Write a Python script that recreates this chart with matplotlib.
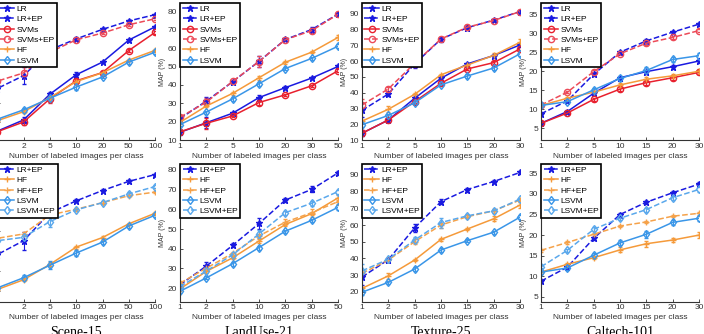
import numpy as np
import matplotlib
matplotlib.use('Agg')
import matplotlib.pyplot as plt

plt.rcParams['font.family'] = ['Liberation Sans', 'DejaVu Sans']

# x tick labels (points are evenly spaced)
scene_x = ['1', '2', '5', '10', '20', '50', '100']
landuse_x = ['1', '2', '5', '10', '20', '30', '50']
texture_x = ['1', '2', '5', '10', '15', '20', '30']
caltech_x = ['1', '2', '5', '10', '15', '20', '30']

# MAP (%)
scene = {
    'LR':      [14.8, 20.9, 34.9, 45.5, 52.4, 64.4, 71.6],
    'LR+EP':   [38.0, 45.0, 59.0, 65.0, 70.2, 74.8, 78.2],
    'SVMs':    [14.5, 19.8, 32.4, 42.2, 46.7, 58.7, 68.6],
    'SVMs+EP': [42.0, 46.5, 57.8, 64.5, 68.2, 72.7, 76.0],
    'HF':      [20.5, 25.4, 33.1, 41.8, 46.6, 53.5, 58.8],
    'LSVM':    [21.3, 26.4, 32.7, 38.8, 44.3, 52.4, 57.8],
    'HF+EP':   [46.2, 48.4, 57.9, 60.8, 64.1, 67.6, 69.4],
    'LSVM+EP': [45.0, 46.7, 54.6, 60.5, 64.1, 68.5, 72.2],
}
scene_err = {
    'LR':      [0.8, 1.5, 1.2, 1.5, 0.7, 0.8, 0.6],
    'LR+EP':   [5.5, 4.5, 1.5, 0.8, 0.6, 0.6, 0.5],
    'SVMs':    [0.8, 1.5, 2.5, 1.0, 0.8, 0.8, 0.7],
    'SVMs+EP': [2.0, 3.0, 1.2, 0.8, 0.7, 0.6, 0.6],
    'HF':      [2.0, 0.8, 1.0, 0.8, 0.6, 0.6, 0.6],
    'LSVM':    [2.0, 1.2, 2.0, 1.5, 0.8, 0.8, 0.8],
    'HF+EP':   [3.0, 1.0, 1.0, 0.6, 0.6, 0.5, 0.5],
    'LSVM+EP': [1.5, 1.2, 2.5, 0.8, 0.8, 0.7, 0.6],
}

landuse = {
    'LR':      [14.2, 19.4, 24.6, 33.1, 38.5, 43.7, 50.0],
    'LR+EP':   [21.7, 31.2, 41.7, 52.8, 64.7, 70.1, 78.5],
    'SVMs':    [14.5, 19.1, 23.1, 30.4, 34.6, 39.5, 47.7],
    'SVMs+EP': [22.4, 30.6, 41.9, 52.7, 64.6, 69.5, 78.4],
    'HF':      [19.6, 28.5, 35.4, 43.9, 52.3, 57.8, 65.8],
    'LSVM':    [18.4, 25.2, 32.4, 40.6, 48.9, 54.4, 61.0],
    'HF+EP':   [22.5, 30.1, 37.7, 46.5, 53.5, 58.3, 63.9],
    'LSVM+EP': [20.8, 28.7, 36.9, 47.5, 58.3, 63.1, 69.0],
}
landuse_err = {
    'LR':      [1.5, 3.0, 0.8, 1.5, 0.7, 0.7, 0.8],
    'LR+EP':   [1.0, 2.0, 1.0, 3.0, 0.8, 1.5, 1.0],
    'SVMs':    [1.5, 3.0, 0.8, 1.2, 0.7, 0.7, 0.8],
    'SVMs+EP': [1.0, 2.0, 1.0, 3.0, 0.8, 1.2, 0.8],
    'HF':      [1.0, 0.8, 0.8, 1.0, 0.7, 0.7, 1.5],
    'LSVM':    [1.0, 0.8, 1.0, 1.0, 0.8, 0.8, 1.2],
    'HF+EP':   [1.0, 1.0, 0.8, 1.0, 1.5, 2.0, 1.0],
    'LSVM+EP': [1.0, 1.0, 1.0, 2.0, 1.0, 1.2, 1.0],
}

texture = {
    'LR':      [14.3, 22.7, 36.5, 49.2, 58.3, 63.6, 70.3],
    'LR+EP':   [28.8, 39.2, 58.3, 74.0, 81.3, 86.1, 91.5],
    'SVMs':    [14.3, 22.7, 34.4, 46.0, 55.1, 59.1, 67.8],
    'SVMs+EP': [32.2, 42.4, 58.7, 74.1, 81.6, 85.8, 91.5],
    'HF':      [22.0, 29.5, 39.0, 51.4, 57.6, 63.7, 72.0],
    'LSVM':    [19.7, 25.6, 33.6, 45.0, 50.6, 55.7, 64.7],
    'HF+EP':   [31.0, 39.0, 50.0, 60.0, 65.0, 68.5, 75.0],
    'LSVM+EP': [32.5, 39.5, 51.0, 61.5, 65.5, 68.5, 75.5],
}
texture_err = {
    'LR':      [2.0, 1.0, 1.0, 1.0, 0.8, 0.8, 1.0],
    'LR+EP':   [4.5, 1.2, 2.5, 1.5, 1.2, 0.8, 0.8],
    'SVMs':    [2.0, 1.0, 1.0, 1.0, 0.8, 0.8, 1.0],
    'SVMs+EP': [4.0, 1.2, 2.5, 1.5, 1.2, 0.8, 0.8],
    'HF':      [1.0, 1.8, 0.8, 0.8, 0.8, 1.5, 2.0],
    'LSVM':    [1.5, 1.0, 1.0, 1.0, 1.0, 1.0, 1.2],
    'HF+EP':   [2.0, 1.0, 1.5, 1.5, 1.0, 1.0, 1.0],
    'LSVM+EP': [4.0, 1.0, 2.0, 3.0, 1.2, 1.0, 1.0],
}

caltech = {
    'LR':      [6.3, 9.4, 14.2, 18.3, 19.9, 21.2, 22.7],
    'LR+EP':   [8.8, 12.2, 19.2, 25.0, 28.0, 30.3, 32.4],
    'SVMs':    [6.3, 9.0, 12.6, 15.3, 17.0, 18.3, 19.7],
    'SVMs+EP': [11.1, 14.5, 19.9, 24.6, 27.4, 28.9, 30.7],
    'HF':      [11.0, 12.9, 14.5, 16.4, 17.9, 18.8, 20.0],
    'LSVM':    [11.0, 12.0, 15.1, 18.1, 20.2, 23.1, 24.1],
    'HF+EP':   [16.3, 18.2, 20.2, 22.2, 23.2, 24.6, 25.3],
    'LSVM+EP': [12.3, 16.3, 21.4, 24.1, 26.2, 29.1, 31.1],
}
caltech_err = {
    'LR':      [0.3, 0.3, 0.4, 0.5, 0.5, 0.5, 0.5],
    'LR+EP':   [0.3, 0.3, 0.4, 0.4, 0.4, 0.4, 0.4],
    'SVMs':    [0.3, 0.3, 0.4, 0.5, 0.5, 0.5, 0.5],
    'SVMs+EP': [0.3, 0.3, 0.4, 0.4, 0.4, 0.4, 0.4],
    'HF':      [0.4, 0.4, 0.4, 0.6, 0.7, 0.6, 0.7],
    'LSVM':    [0.4, 0.4, 0.5, 0.6, 0.8, 0.6, 0.6],
    'HF+EP':   [0.3, 0.3, 0.3, 0.3, 0.3, 0.3, 0.3],
    'LSVM+EP': [0.4, 0.4, 0.5, 0.5, 0.5, 0.5, 0.5],
}

titles = ['Scene-15', 'LandUse-21', 'Texture-25', 'Caltech-101']
xlabels = [scene_x, landuse_x, texture_x, caltech_x]
means = [scene, landuse, texture, caltech]
errs = [scene_err, landuse_err, texture_err, caltech_err]

top_methods = ['LR', 'LR+EP', 'SVMs', 'SVMs+EP', 'HF', 'LSVM']
bot_methods = ['LR+EP', 'HF', 'HF+EP', 'LSVM', 'LSVM+EP']

style = {
    'LR':      dict(color='#1a1ae0', ls='-',  marker='*', mfc='#1a1ae0'),
    'LR+EP':   dict(color='#1a1ae0', ls='--', marker='*', mfc='#1a1ae0'),
    'SVMs':    dict(color='#e8202e', ls='-',  marker='o', mfc='none'),
    'SVMs+EP': dict(color='#ec4a58', ls='--', marker='o', mfc='none'),
    'HF':      dict(color='#f59a3a', ls='-',  marker='+', mfc='#f59a3a'),
    'HF+EP':   dict(color='#f5a24a', ls='--', marker='+', mfc='#f5a24a'),
    'LSVM':    dict(color='#3a96e8', ls='-',  marker='d', mfc='none'),
    'LSVM+EP': dict(color='#5aa8ec', ls='--', marker='d', mfc='none'),
}

ylims_top = [(10, 84), (10, 84), (10, 96.3), (1.9, 37.7)]
ylims_bot = [(14.4, 83.0), (13.1, 82.5), (14.0, 96.0), (3.8, 37.05)]
yticks_top = [np.arange(10, 81, 10), np.arange(10, 81, 10), np.arange(10, 91, 10), np.arange(5, 36, 5)]
yticks_bot = [np.arange(20, 81, 10), np.arange(20, 81, 10), np.arange(20, 91, 10), np.arange(5, 36, 5)]

fig = plt.figure(figsize=(7.04, 3.34), dpi=100)
lefts = [-0.004, 0.2557, 0.5142, 0.7685]
W = 0.2244


def panel(ax, d, e, methods, xl, ylim, yt):
    x = np.arange(len(xl))
    handles = []
    for m in methods:
        s = style[m]
        eb = ax.errorbar(x, d[m], yerr=e[m], color=s['color'], ls=s['ls'], marker=s['marker'],
                         mfc=s['mfc'], mec=s['color'], ms=4.5, mew=1.0, lw=1.1,
                         elinewidth=0.8, capsize=1.5, capthick=0.8)
        handles.append(eb.lines[0])
    ax.set_xlim(0, len(xl) - 1)
    ax.set_ylim(*ylim)
    ax.set_xticks(x)
    ax.set_xticklabels(xl)
    ax.set_yticks(yt)
    for sp in ['top', 'right']:
        ax.spines[sp].set_visible(False)
    for sp in ['left', 'bottom']:
        ax.spines[sp].set_color('#333333')
        ax.spines[sp].set_linewidth(0.8)
    ax.tick_params(direction='in', length=2.5, width=0.6, labelsize=6, pad=2,
                   colors='#333333')
    ax.set_xlabel('Number of labeled images per class', fontsize=6, labelpad=2, color='#333333')
    ax.set_ylabel('MAP (%)', fontsize=5, labelpad=1, color='#333333')
    leg = ax.legend(handles, methods, loc='upper left', bbox_to_anchor=(0.0, 1.01),
                    borderaxespad=0, fontsize=6, handlelength=1.7, labelspacing=0.3,
                    borderpad=0.3, handletextpad=0.3, fancybox=False, framealpha=1)
    leg.get_frame().set_edgecolor('black')
    leg.get_frame().set_linewidth(1.2)


for i in range(4):
    ax1 = fig.add_axes([lefts[i], 0.5808, W, 0.4072])
    panel(ax1, means[i], errs[i], top_methods, xlabels[i], ylims_top[i], yticks_top[i])
    ax2 = fig.add_axes([lefts[i], 0.0967, W, 0.4093])
    panel(ax2, means[i], errs[i], bot_methods, xlabels[i], ylims_bot[i], yticks_bot[i])
    fig.text(lefts[i] + W / 2, 1 - 326.0 / 334, titles[i], ha='center', va='top',
             fontsize=10, family=['Liberation Serif', 'DejaVu Serif'])

fig.savefig('out.png', dpi=100)
